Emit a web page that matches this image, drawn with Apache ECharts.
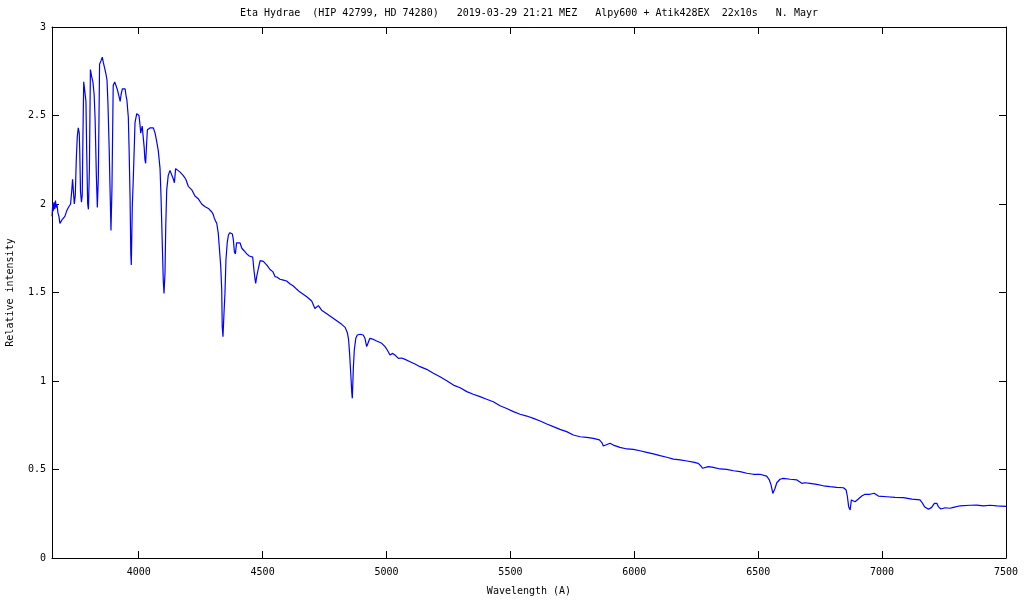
<!DOCTYPE html>
<html>
<head>
<meta charset="utf-8">
<script src="https://cdn.jsdelivr.net/npm/echarts@6/dist/echarts.min.js"></script>
<style>html,body{margin:0;padding:0;background:#fff}#c{width:1024px;height:600px}</style>
</head>
<body>
<div id="c"></div>
<script>
const titleText = "Eta Hydrae  (HIP 42799, HD 74280)   2019-03-29 21:21 MEZ   Alpy600 + Atik428EX  22x10s   N. Mayr";
const xTicks = [4000, 4500, 5000, 5500, 6000, 6500, 7000, 7500];
const wavelength = [
3650,3653,3655,3658,3661,3664,3667,3670,3674,3678,3682,3686,3690,3696,3702,3709,3716,3720,3725,3730,
3733,3736,3740,3744,3748,3752,3756,3760,3762,3765,3769,3772,3775,3778,3783,3787,3790,3794,3797,3801,
3805,3810,3815,3820,3824,3829,3833,3837,3842,3848,3853,3857,3862,3867,3872,3876,3881,3884,3888,3892,
3897,3903,3908,3913,3918,3922,3925,3929,3934,3940,3945,3949,3952,3958,3961,3965,3968,3970,3974,3978,
3982,3985,3992,4001,4005,4008,4014,4018,4022,4025,4028,4031,4035,4045,4059,4066,4073,4079,4086,4090,
4095,4099,4102,4106,4109,4113,4119,4126,4133,4140,4144,4149,4157,4167,4180,4190,4200,4214,4227,4240,
4254,4268,4281,4295,4301,4305,4315,4321,4325,4331,4335,4337,4340,4344,4348,4352,4357,4362,4368,4378,
4382,4386,4390,4395,4402,4409,4416,4425,4436,4446,4460,4465,4469,4472,4476,4483,4490,4503,4517,4530,
4541,4550,4559,4570,4584,4597,4611,4624,4638,4648,4678,4698,4711,4725,4738,4759,4779,4799,4819,4833,
4842,4847,4851,4856,4860,4862,4866,4870,4876,4882,4893,4906,4913,4920,4927,4933,4944,4960,4981,4994,
5003,5014,5025,5034,5048,5061,5075,5095,5115,5135,5162,5189,5216,5243,5270,5297,5324,5350,5377,5404,
5431,5458,5485,5512,5539,5566,5593,5620,5647,5673,5700,5727,5754,5781,5808,5835,5859,5869,5875,5882,
5902,5915,5942,5970,5996,6023,6050,6077,6104,6131,6158,6185,6212,6238,6258,6269,6275,6281,6299,6319,
6346,6373,6400,6427,6454,6480,6507,6534,6545,6552,6559,6563,6568,6575,6588,6601,6629,6656,6662,6676,
6689,6709,6736,6763,6790,6817,6844,6855,6860,6865,6871,6876,6884,6891,6904,6918,6931,6951,6968,6985,
7019,7052,7086,7120,7153,7162,7171,7187,7200,7211,7221,7227,7237,7254,7274,7288,7315,7355,7382,7409,
7436,7463,7500
];
const intensity = [
1.93,2.0,1.96,2.01,1.97,2.02,1.98,2.0,1.95,1.93,1.89,1.9,1.91,1.91,1.93,1.96,1.98,1.97,2.0,2.08,
2.14,2.08,2.0,2.05,2.25,2.38,2.43,2.4,2.3,2.07,2.01,2.05,2.4,2.69,2.69,2.58,2.3,2.0,1.97,2.2,
2.76,2.72,2.69,2.62,2.48,2.16,1.98,2.15,2.79,2.81,2.83,2.80,2.77,2.74,2.70,2.56,2.30,2.10,1.85,2.09,
2.67,2.69,2.68,2.65,2.64,2.60,2.58,2.62,2.65,2.65,2.65,2.61,2.59,2.49,2.32,2.04,1.72,1.655,1.985,2.14,
2.32,2.46,2.51,2.50,2.45,2.40,2.44,2.43,2.32,2.25,2.23,2.32,2.42,2.43,2.43,2.40,2.35,2.30,2.20,2.04,
1.78,1.57,1.495,1.61,1.87,2.08,2.16,2.19,2.19,2.14,2.12,2.20,2.21,2.18,2.16,2.14,2.10,2.08,2.045,2.03,
2.00,1.985,1.975,1.955,1.94,1.92,1.89,1.834,1.76,1.646,1.514,1.307,1.25,1.38,1.495,1.684,1.78,1.825,1.838,1.83,
1.797,1.73,1.718,1.78,1.79,1.78,1.75,1.736,1.718,1.706,1.70,1.627,1.58,1.552,1.59,1.637,1.68,1.676,1.655,1.63,
1.618,1.59,1.586,1.575,1.57,1.565,1.548,1.537,1.518,1.505,1.476,1.452,1.41,1.426,1.40,1.38,1.36,1.34,1.32,1.303,
1.273,1.232,1.156,1.034,0.93,0.902,1.07,1.175,1.241,1.26,1.264,1.26,1.241,1.194,1.22,1.241,1.237,1.226,1.213,1.194,
1.175,1.147,1.156,1.147,1.128,1.13,1.122,1.109,1.096,1.081,1.066,1.044,1.024,1.002,0.977,0.962,0.94,0.925,0.912,0.897,
0.883,0.86,0.845,0.827,0.812,0.802,0.789,0.774,0.757,0.742,0.727,0.714,0.695,0.685,0.682,0.676,0.667,0.652,0.633,0.644,
0.648,0.638,0.625,0.616,0.614,0.606,0.597,0.588,0.578,0.569,0.559,0.554,0.548,0.542,0.535,0.52,0.507,0.516,0.516,0.512,
0.503,0.501,0.493,0.488,0.479,0.473,0.473,0.463,0.441,0.412,0.365,0.356,0.394,0.425,0.445,0.45,0.445,0.441,0.431,0.422,
0.425,0.422,0.416,0.408,0.403,0.399,0.397,0.384,0.346,0.29,0.271,0.328,0.328,0.318,0.333,0.35,0.36,0.36,0.366,0.35,
0.346,0.342,0.341,0.333,0.328,0.312,0.29,0.275,0.286,0.309,0.309,0.29,0.277,0.284,0.281,0.286,0.295,0.298,0.299,0.294,
0.298,0.295,0.292
];

const FONT = 'DejaVu Sans Mono';
const data = wavelength.map((w, i) => [w, intensity[i]]);
const chart = echarts.init(document.getElementById('c'));
const axisLineStyle = { color: '#000', width: 1 };
const txt = { fontFamily: FONT, fontSize: 10, color: '#000' };

chart.setOption({
  animation: false,
  backgroundColor: '#fff',
  grid: { left: 52, right: 18, top: 27, bottom: 42, containLabel: false, outerBoundsMode: 'none' },
  graphic: [{
    type: 'text', x: 529, y: 13,
    style: { text: titleText, textAlign: 'center', textVerticalAlign: 'middle',
             fontFamily: FONT, fontSize: 10, fill: '#000' }
  }],
  xAxis: [{
    type: 'value', min: 3650, max: 7500, position: 'bottom',
    name: 'Wavelength (A)', nameLocation: 'middle', nameGap: 28, nameTextStyle: txt,
    axisLine: { show: true, lineStyle: axisLineStyle },
    axisTick: { show: true, inside: true, length: 7, customValues: xTicks, lineStyle: axisLineStyle },
    axisLabel: { customValues: xTicks, margin: 9, formatter: v => String(v), ...txt },
    splitLine: { show: false }
  }, {
    type: 'value', min: 3650, max: 7500, position: 'top',
    axisLine: { show: true, onZero: false, lineStyle: axisLineStyle },
    axisTick: { show: true, inside: true, length: 7, customValues: xTicks, lineStyle: axisLineStyle },
    axisLabel: { show: false },
    splitLine: { show: false }
  }],
  yAxis: [{
    type: 'value', min: 0, max: 3, interval: 0.5, position: 'left',
    name: 'Relative intensity', nameLocation: 'middle', nameGap: 37, nameTextStyle: txt,
    axisLine: { show: true, lineStyle: axisLineStyle },
    axisTick: { show: true, inside: true, length: 7, lineStyle: axisLineStyle },
    axisLabel: { margin: 6, ...txt },
    splitLine: { show: false }
  }, {
    type: 'value', min: 0, max: 3, interval: 0.5, position: 'right',
    axisLine: { show: true, onZero: false, lineStyle: axisLineStyle },
    axisTick: { show: true, inside: true, length: 7, lineStyle: axisLineStyle },
    axisLabel: { show: false },
    splitLine: { show: false }
  }],
  series: [{
    type: 'line', data: data, xAxisIndex: 0, yAxisIndex: 0,
    showSymbol: false, symbol: 'none',
    lineStyle: { color: '#0000ff', width: 1.2 },
    itemStyle: { color: '#0000ff' }
  }]
});
</script>
</body>
</html>
